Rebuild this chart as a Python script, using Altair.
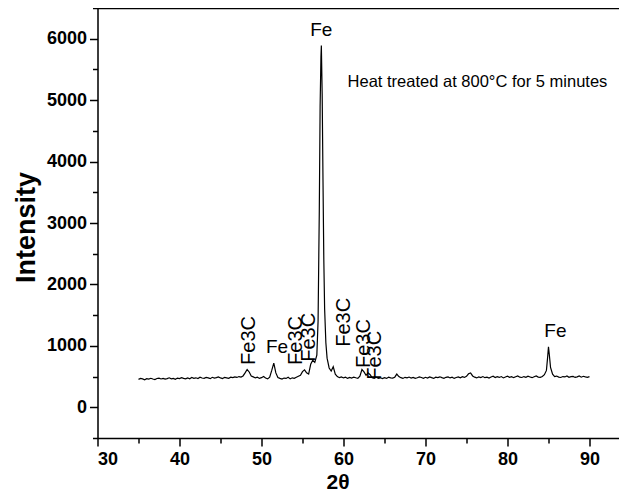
import altair as alt
import pandas as pd

two_theta = [
    35.0, 35.25, 35.5, 35.75, 36.0, 36.25, 36.5, 36.75, 37.0, 37.25, 37.5, 37.75,
    38.0, 38.25, 38.5, 38.75, 39.0, 39.25, 39.5, 39.75, 40.0, 40.25, 40.5, 40.75,
    41.0, 41.25, 41.5, 41.75, 42.0, 42.25, 42.5, 42.75, 43.0, 43.25, 43.5, 43.75,
    44.0, 44.25, 44.5, 44.75, 45.0, 45.25, 45.5, 45.75, 46.0, 46.25, 46.5, 46.75,
    47.0, 47.25, 47.5, 47.75, 48.0, 48.25, 48.5, 48.75, 49.0, 49.25, 49.5, 49.75,
    50.0, 50.25, 50.5, 50.75, 51.0, 51.25, 51.5, 51.75, 52.0, 52.25, 52.5, 52.75,
    53.0, 53.25, 53.5, 53.75, 54.0, 54.25, 54.5, 54.75, 55.0, 55.25, 55.5, 55.75,
    56.0, 56.25, 56.5, 56.75, 56.9, 57.05, 57.15, 57.25, 57.3, 57.4, 57.5, 57.6,
    57.7, 57.85, 58.0, 58.25, 58.5, 58.75, 59.0, 59.25, 59.5, 59.75,
    60.0, 60.25, 60.5, 60.75, 61.0, 61.25, 61.5, 61.75, 62.0, 62.25, 62.5, 62.75,
    63.0, 63.25, 63.5, 63.75, 64.0, 64.25, 64.5, 64.75, 65.0, 65.25, 65.5, 65.75,
    66.0, 66.25, 66.5, 66.75, 67.0, 67.25, 67.5, 67.75, 68.0, 68.25, 68.5, 68.75,
    69.0, 69.25, 69.5, 69.75, 70.0, 70.25, 70.5, 70.75, 71.0, 71.25, 71.5, 71.75,
    72.0, 72.25, 72.5, 72.75, 73.0, 73.25, 73.5, 73.75, 74.0, 74.25, 74.5, 74.75,
    75.0, 75.25, 75.5, 75.75, 76.0, 76.25, 76.5, 76.75, 77.0, 77.25, 77.5, 77.75,
    78.0, 78.25, 78.5, 78.75, 79.0, 79.25, 79.5, 79.75, 80.0, 80.25, 80.5, 80.75,
    81.0, 81.25, 81.5, 81.75, 82.0, 82.25, 82.5, 82.75, 83.0, 83.25, 83.5, 83.75,
    84.0, 84.25, 84.5, 84.75, 84.9, 85.0, 85.1, 85.25, 85.5, 85.75,
    86.0, 86.25, 86.5, 86.75, 87.0, 87.25, 87.5, 87.75, 88.0, 88.25, 88.5, 88.75,
    89.0, 89.25, 89.5, 89.75, 90.0,
]
intensity = [
    455, 470, 462, 448, 466, 458, 472, 460, 452, 468, 475, 461,
    470, 458, 466, 480, 463, 471, 455, 476, 468, 482, 470, 462,
    478, 465, 486, 472, 480, 469, 490, 476, 470, 486, 478, 466,
    488, 474, 482, 495, 478, 468, 488, 480, 472, 490, 482, 495,
    486, 500, 492, 510, 560, 615, 575, 510, 495, 478, 490, 470,
    482, 500, 476, 462, 490, 600, 720, 560, 485, 470, 458, 476,
    470, 488, 462, 480, 472, 490, 505, 520, 580, 610, 560, 540,
    700, 765, 730, 850, 1400, 3200, 4900, 5700, 5890, 5100, 3700, 2400,
    1600, 1050, 800, 640, 590, 660, 540, 500, 482, 495,
    478, 490, 470, 486, 475, 492, 480, 470, 505, 615, 575, 520,
    560, 530, 480, 470, 488, 472, 480, 468, 482, 470, 490, 478,
    475, 490, 540, 500, 482, 470, 488, 478, 492, 476, 486, 470,
    480, 495, 484, 472, 488, 476, 495, 482, 470, 490, 484, 496,
    482, 472, 488, 495, 478, 490, 470, 485, 494, 480, 498, 486,
    505, 545, 560, 510, 490, 478, 496, 484, 500, 482, 490, 476,
    492, 505, 484, 498, 486, 500, 478, 494, 505, 488, 498, 482,
    496, 510, 490, 485, 500, 488, 506, 494, 482, 498, 510, 492,
    488, 502, 530, 600, 820, 985, 860, 650, 540, 500,
    508, 492, 485, 500, 494, 510, 488, 498, 502, 486, 495, 510,
    490, 505, 496, 488, 500,
]

x_major = [30, 40, 50, 60, 70, 80, 90]
x_minor = [35, 45, 55, 65, 75, 85]
y_major = [0, 1000, 2000, 3000, 4000, 5000, 6000]
y_minor = [-500, 500, 1500, 2500, 3500, 4500, 5500, 6500]

fe_text = ["Fe", "Fe", "Fe"]
fe_x = [57.3, 51.9, 85.85]
fe_y = [6140, 985, 1240]

fe3c_text = ["Fe3C", "Fe3C", "Fe3C", "Fe3C", "Fe3C", "Fe3C"]
fe3c_x = [48.5, 54.15, 55.85, 60.1, 62.55, 63.8]
fe3c_y = [690, 690, 740, 985, 640, 447]

note_text = ["Heat treated at 800°C for 5 minutes"]
note_x = [60.5]
note_y = [5293]

FONT = "Liberation Sans"
xscale = alt.Scale(domain=[30, 93.6], nice=False, zero=False)
yscale = alt.Scale(domain=[-500, 6500], nice=False, zero=False)

df = pd.DataFrame({"two_theta": two_theta, "intensity": intensity})
df_xminor = pd.DataFrame({"v": x_minor})
df_yminor = pd.DataFrame({"v": y_minor})
df_fe = pd.DataFrame({"t": fe_text, "x": fe_x, "y": fe_y})
df_fe3c = pd.DataFrame({"t": fe3c_text, "x": fe3c_x, "y": fe3c_y})
df_note = pd.DataFrame({"t": note_text, "x": note_x, "y": note_y})

line = alt.Chart(df).mark_line(color="black", strokeWidth=1.2).encode(
    x=alt.X("two_theta:Q", scale=xscale, axis=alt.Axis(
        orient="bottom", values=x_major, format="d", tickSize=8, tickWidth=1.5,
        tickColor="black", domainColor="black", domainWidth=1.5,
        labelFont=FONT, labelFontSize=18, labelFontWeight="bold", labelColor="black",
        labelPadding=4, grid=False, title="2θ", titleFont=FONT, titleFontSize=21,
        titleFontWeight="bold", titleColor="black", titleX=240, titleY=44,
        titleAlign="center", titleBaseline="middle")),
    y=alt.Y("intensity:Q", scale=yscale, axis=alt.Axis(
        orient="left", values=y_major, format="d", tickSize=8, tickWidth=1.5,
        tickColor="black", domainColor="black", domainWidth=1.5,
        labelFont=FONT, labelFontSize=18, labelFontWeight="bold", labelColor="black",
        labelPadding=3, grid=False, title="Intensity", titleFont=FONT, titleFontSize=27,
        titleFontWeight="bold", titleColor="black", titleX=-71, titleY=219,
        titleAngle=270, titleAlign="center", titleBaseline="middle")),
)

xminor = alt.Chart(df_xminor).mark_rule(opacity=0).encode(
    x=alt.X("v:Q", scale=xscale, axis=alt.Axis(
        orient="bottom", values=x_minor, tickSize=5, tickWidth=1.5, tickColor="black",
        labels=False, domain=False, grid=False, title="")),
)
yminor = alt.Chart(df_yminor).mark_rule(opacity=0).encode(
    y=alt.Y("v:Q", scale=yscale, axis=alt.Axis(
        orient="left", values=y_minor, tickSize=5, tickWidth=1.5, tickColor="black",
        labels=False, domain=False, grid=False, title="")),
)
topline = alt.Chart(df_xminor).mark_rule(opacity=0).encode(
    x=alt.X("v:Q", scale=xscale, axis=alt.Axis(
        orient="top", ticks=False, labels=False, domain=True, domainColor="black",
        domainWidth=1.5, grid=False, title="")),
)

fe = alt.Chart(df_fe).mark_text(font=FONT, fontSize=19, color="black",
                                align="center", baseline="middle").encode(
    x=alt.X("x:Q", scale=xscale, axis=None),
    y=alt.Y("y:Q", scale=yscale, axis=None),
    text="t:N",
)
fe3c = alt.Chart(df_fe3c).mark_text(font=FONT, fontSize=20, color="black", angle=270,
                                    align="left", baseline="middle").encode(
    x=alt.X("x:Q", scale=xscale, axis=None),
    y=alt.Y("y:Q", scale=yscale, axis=None),
    text="t:N",
)
note = alt.Chart(df_note).mark_text(font=FONT, fontSize=16.5, color="black",
                                    align="left", baseline="middle").encode(
    x=alt.X("x:Q", scale=xscale, axis=None),
    y=alt.Y("y:Q", scale=yscale, axis=None),
    text="t:N",
)

chart = alt.layer(line, xminor, yminor, topline, fe, fe3c, note).resolve_axis(
    x="independent", y="independent"
).properties(
    width=521.5, height=430,
    padding={"left": 89.5, "top": 0, "right": 0, "bottom": 57},
    autosize=alt.AutoSizeParams(type="none"),
).configure_view(stroke=None).configure(font=FONT, background="white")

chart.save("out.html", embed_options={"renderer": "svg", "actions": False})
